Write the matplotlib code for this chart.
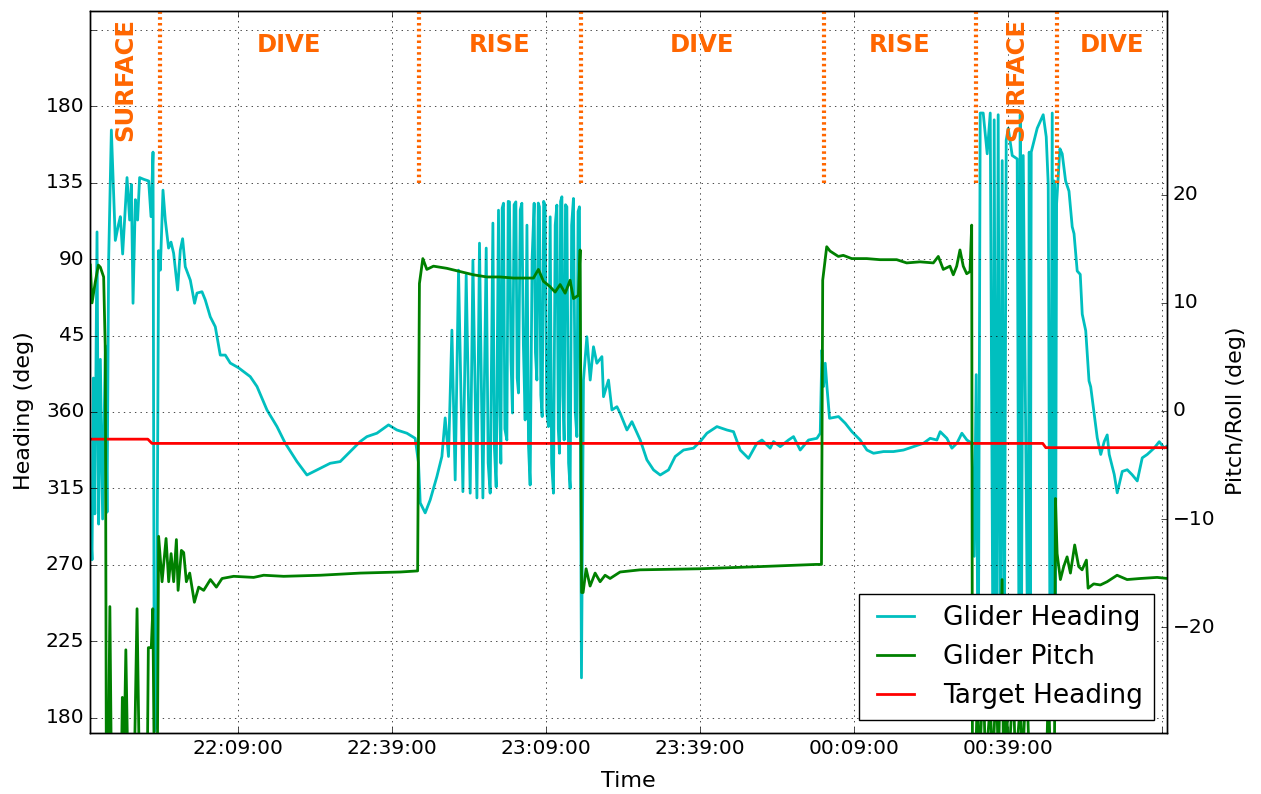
import numpy as np
import pandas as pd
import matplotlib
matplotlib.use('Agg')
import matplotlib.pyplot as plt
import matplotlib.dates as mdates

# classic look like the original plot
plt.style.use('classic')
plt.rcParams['font.family'] = ['DejaVu Sans']
plt.rcParams['figure.facecolor'] = 'white'
plt.rcParams['savefig.facecolor'] = 'white'

start = pd.Timestamp('2015-06-01 21:40:00')

# glider heading, minutes after 21:40 / degrees (0-180 drawn as 360-540)
heading_min = [0.41, 0.64, 0.89, 1.18, 1.61, 1.92, 2.26, 2.70, 3.23, 3.56, 3.87, 4.40,
               5.17, 5.76, 6.15, 6.60, 7.45, 7.96, 8.29, 8.62, 9.07, 9.51, 9.90, 10.68,
               11.66, 12.12, 12.51, 12.76, 13.15, 13.60, 13.93,
               14.45, 14.90, 15.54, 16.01, 16.52, 17.30, 17.82, 18.27, 18.79, 19.77, 20.60,
               21.07, 22.04, 22.68, 23.66, 24.63, 25.60, 26.58, 27.55, 29.17, 31.44, 32.75,
               34.69, 36.64, 38.25, 40.53, 42.47, 44.42, 47.00, 48.95, 50.90, 52.84, 54.15,
               56.09, 58.35, 59.98, 61.93, 63.54,
               64.19, 64.52, 65.49, 66.46, 67.77, 68.74, 69.38, 70.03, 70.69, 71.33, 71.98,
               72.83, 73.47, 74.25, 74.78, 75.56, 76.06, 76.72,
               77.37, 77.75, 78.14, 78.67, 78.95, 79.31, 79.76, 80.02, 80.22, 80.48, 80.73,
               81.00, 81.39, 81.65, 81.90, 82.20, 82.48, 82.80, 83.14, 83.40, 83.65, 84.00,
               84.31, 84.60, 84.95, 85.30, 85.60, 85.92, 86.30, 86.70, 86.95, 87.23, 87.50,
               87.73, 88.00, 88.26, 88.55, 88.84, 89.15, 89.49, 89.82, 90.10, 90.46, 90.80,
               91.12, 91.40, 91.63, 91.85, 92.10, 92.30, 92.54, 92.80, 93.07, 93.40, 93.71,
               94.00, 94.35, 94.70, 95.02, 95.25, 95.52, 95.75, 95.91, 96.30,
               96.96, 97.61, 98.25, 98.91, 99.89, 100.20, 101.17, 101.84, 102.81, 103.45,
               104.76, 105.73, 107.35, 108.65, 109.94, 111.24, 112.86, 114.16, 115.78,
               117.72, 119.03, 120.33, 122.28, 124.22, 125.51, 126.81, 128.43, 130.06,
               131.04, 132.65, 133.29, 134.60, 136.21, 137.19, 138.49, 140.11, 141.74, 142.39,
               142.72, 143.03, 143.36, 143.69, 144.20, 145.95, 147.25, 148.56, 150.17,
               151.48, 152.76, 154.71, 156.65, 158.60, 160.54, 162.49, 163.79, 165.10,
               165.74, 167.04, 168.02, 168.99, 169.96, 170.94, 171.91,
               172.36, 172.75, 173.14, 173.53, 174.11, 174.89, 175.48, 176.06, 176.25,
               176.64, 177.03, 177.42, 177.81, 178.20, 178.59, 178.98, 179.76, 180.73,
               181.12, 181.32, 181.51, 181.90, 182.87, 183.07, 183.26, 183.46, 184.62,
               185.79, 186.38, 186.77, 187.16, 187.55, 187.74, 187.94, 188.13, 188.40,
               189.04, 189.49, 190.15, 190.81, 191.44, 191.79, 192.41, 193.00, 193.39,
               194.07, 194.71, 195.04, 195.72, 196.31, 196.99, 197.67, 198.25, 198.64,
               199.62, 200.20, 201.18, 202.15, 203.12, 204.10, 205.07, 206.04, 207.40,
               208.38, 209.35, 209.93]
heading_deg = [290, 273, 380, 300, 466, 294, 391, 297, 399, 301, 449, 526,
               461, 470, 475, 453, 498, 473, 494, 424, 485, 473, 498, 497,
               496, 475, 513, 172, 175, 455, 443.5,
               490.6, 473, 456.5, 460, 453.5, 431.8, 455.3, 462, 445.5, 437.6, 424,
               430, 430.8, 426, 416, 410.2, 393.5, 393.5, 388.8, 386, 380.8, 375,
               361.2, 351.4, 341.6, 330.8, 322.9, 325.9, 329.8, 330.8, 336.7, 342.6, 345.5,
               347.5, 352.4, 349.4, 347.5, 344.5,
               330, 306.5, 300.6, 308.2, 322, 333.8, 356.5, 333.8, 408.2, 320, 443.5,
               313.1, 440.6, 312.2, 449.4, 309.4, 459.4, 309.4,
               456.5, 330, 312.2, 471.2, 340, 315.9, 478.8, 360, 329.8, 480, 482.9,
               350, 343.5, 484, 483.7, 390, 359.4, 482, 483.7, 380, 371.2, 479,
               482.9, 400, 355.3, 470, 340, 317, 450, 482.9, 395, 378.8, 483,
               480.8, 370, 357.3, 484, 481.8, 360, 351.4, 474.9, 330, 312.2, 470,
               481.8, 350, 335.7, 484, 486.7, 370, 343.5, 482, 480.8, 330, 315,
               470, 485.7, 360, 345.5, 478, 480.8, 320, 203.5, 378.8,
               404.3, 378.8, 398.4, 388.7, 392.6, 369, 378.8, 361.2, 363.1, 359.2,
               349.4, 354.3, 343.5, 331.8, 325.9, 322.9, 325.9, 333.8, 337.6,
               338.7, 342.6, 347.5, 351.4, 349.4, 348.4, 337.6, 332.7, 341.6,
               343.5, 338.7, 342.6, 339.6, 343.5, 345.5, 337.6, 343.5, 344.5, 347.5,
               396.5, 375, 388.7, 375, 356.3, 357.3, 353.4, 348.4, 343.5,
               337.6, 335.7, 336.7, 336.7, 337.6, 339.6, 341.6, 344.5, 343.5,
               348.4, 344.5, 338.7, 341.6, 347.5, 343.5, 341.6,
               275, 382, 182, 536, 536, 512, 536, 182, 532,
               182, 535, 182, 508, 182, 520, 527, 511, 509,
               182, 535, 182, 511, 182, 513, 182, 513, 527,
               535, 522, 494, 182, 536, 182, 496, 182, 482.6,
               515, 512, 496, 490, 469, 465, 443, 441, 417.6,
               407.8, 378.3, 374.8, 358.6, 344.8, 335, 342.6, 346.5, 335,
               323.2, 312.4, 325, 326, 323, 319.4, 333, 335, 338.8,
               342.5, 338.8, 340]

# glider pitch, minutes after 21:40 / degrees
pitch_min = [0.31, 0.64, 1.26, 1.87, 2.26, 2.90, 3.23, 3.42, 3.81, 4.11, 4.40, 6.35,
             6.54, 6.83, 7.22, 7.61, 8.87, 9.40, 9.84, 11.40, 11.60, 12.17, 12.47, 12.76,
             13.35, 13.60,
             14.27, 15.05, 15.56, 16.03, 16.53, 17.06, 17.39, 18.03, 18.48, 19.00, 19.65,
             20.56, 21.40, 22.37, 23.68, 24.84, 25.95, 28.21, 32.10, 34.05, 37.94, 45.08,
             52.87, 60.65, 64.02,
             64.37, 65.03, 65.81, 67.10, 69.70, 72.29, 74.88, 77.49, 80.08, 82.67, 86.56,
             87.53, 88.51, 89.81, 90.78, 91.76, 92.73, 93.70, 94.35, 95.32, 95.65, 95.94,
             96.23, 96.81, 97.59, 98.57, 99.54, 100.51, 101.48, 103.43, 107.32, 119.0,
             130.66, 141.56, 142.63,
             142.87, 143.65, 144.29, 145.91, 146.88, 148.52, 151.44, 154.02, 157.27,
             159.22, 161.81, 164.40, 165.37, 166.34, 167.64, 168.29, 168.95, 169.59,
             170.23, 170.90, 171.54, 171.87,
             172.02, 172.6, 172.99, 173.37, 174.15, 174.54, 175.51, 175.90, 176.68,
             177.07, 177.79, 178.05, 178.63, 179.02, 179.99, 180.38, 181.36, 181.75,
             182.53, 183.11, 186.42, 186.81, 187.20, 187.98, 188.17,
             188.50, 189.14, 189.78, 190.44, 191.09, 191.92, 192.70, 193.36, 194.20,
             194.53, 195.62, 196.92, 198.23, 200.17, 202.12, 204.71, 207.96, 209.96]
pitch_deg = [13.5, 10, 11.9, 13.5, 13.3, 12.4, 5.4, -33, -33, -18.1, -33, -33,
             -26.5, -33, -22.1, -33, -33, -18.3, -33, -33, -21.9, -21.9, -18.3, -33,
             -33, -11.6,
             -15.8, -11.8, -15.8, -13.2, -15.8, -11.9, -16.6, -12.9, -13.1, -15.8, -15,
             -17.7, -16.3, -16.6, -15.6, -16.3, -15.5, -15.3, -15.4, -15.2, -15.3, -15.2,
             -15.0, -14.9, -14.8,
             11.8, 14.1, 13.1, 13.4, 13.2, 12.9, 12.6, 12.4, 12.4, 12.3, 12.3,
             13.1, 12.0, 11.5, 11.0, 11.7, 10.9, 12.1, 10.4, 10.7, 14.9, -16.8,
             -16.8, -14.6, -16.2, -15.0, -15.8, -15.2, -15.5, -14.9, -14.7, -14.6,
             -14.4, -14.2, -14.2,
             12.1, 15.2, 14.8, 14.3, 14.4, 14.1, 14.1, 14.0, 14.0,
             13.7, 13.8, 13.7, 14.3, 13.1, 13.4, 12.6, 13.4, 14.9,
             13.4, 12.7, 12.9, 17.2,
             -33, -33, -26, -33, -24, -33, -27, -33, -25,
             -33, -15.6, -33, -26, -33, -25, -33, -27, -33,
             -24, -33, -33, -25, -33, -33, -8.1,
             -13.2, -15.6, -14.4, -13.5, -15.0, -12.4, -14.4, -14.7, -13.8,
             -16.4, -16.0, -16.1, -15.8, -15.2, -15.6, -15.5, -15.4, -15.5]

# target heading
target_min = [0.3, 11.5, 12.3, 185.7, 186.3, 209.9]
target_deg = [344, 344, 341.5, 341.5, 339, 339]

# dive phases (boundaries in minutes after 21:40)
phase_min = [0.3, 13.8, 64.23, 95.75, 143.13, 172.69, 188.47, 209.9]
phase_names = ['SURFACE', 'DIVE', 'RISE', 'DIVE', 'RISE', 'SURFACE', 'DIVE']

heading_ticks = [180, 225, 270, 315, 360, 405, 450, 495, 540, 585]
heading_labels = ['180', '225', '270', '315', '360', '45', '90', '135', '180', '']
time_tick_min = [29, 59, 89, 119, 149, 179, 209]
time_labels = ['22:09:00', '22:39:00', '23:09:00', '23:39:00', '00:09:00', '00:39:00', '']


def to_time(m):
    return mdates.date2num((start + pd.to_timedelta(np.asarray(m), unit='min')).to_pydatetime())


orange = '#ff6600'

fig = plt.figure(figsize=(12.61, 7.94), dpi=100)
ax1 = fig.add_subplot(111)
fig.subplots_adjust(left=0.0714, right=0.9255, bottom=0.0768, top=0.986)
ax2 = ax1.twinx()

h1, = ax1.plot(to_time(heading_min), heading_deg, color='c', lw=2, label='Glider Heading')
h3, = ax1.plot(to_time(target_min), target_deg, color='r', lw=2, label='Target Heading')
h2, = ax2.plot(to_time(pitch_min), pitch_deg, color='g', lw=2, label='Glider Pitch')

# phase markers and names
ax1.vlines(to_time(phase_min[1:-1]), 495, 600, colors=orange, lw=3,
           linestyles=(0, (1.8, 2.4)), zorder=4)
for i, name in enumerate(phase_names):
    mid = to_time([(phase_min[i] + phase_min[i + 1]) / 2])[0]
    if name == 'SURFACE':
        ax1.text(mid, 556, name, rotation=90, ha='center', va='center',
                 color=orange, fontsize=17.5, fontweight='bold', zorder=5)
    else:
        ax1.text(mid, 576, name, ha='center', va='center',
                 color=orange, fontsize=17.5, fontweight='bold', zorder=5)

ax1.set_xlim(to_time([0.25, 209.9]))
ax1.set_ylim(171, 596)
ax2.set_ylim(-29.8, 37.0)

ax1.set_yticks(heading_ticks)
ax1.set_yticklabels(heading_labels)
ax1.set_xticks(to_time(time_tick_min))
ax1.set_xticklabels(time_labels)
ax2.set_yticks([-20, -10, 0, 10, 20])
ax2.set_yticklabels(['\u221220', '\u221210', '0', '10', '20'])

ax1.tick_params(labelsize=14.5)
ax2.tick_params(labelsize=14.5)
ax1.grid(True)

ax1.set_xlabel('Time', fontsize=16)
ax1.set_ylabel('Heading (deg)', fontsize=16)
ax2.set_ylabel('Pitch/Roll (deg)', fontsize=16)
ax1.xaxis.set_label_coords(0.5, -0.052)
ax1.yaxis.set_label_coords(-0.052, 0.446)
ax2.yaxis.set_label_coords(1.0548, 0.446)

ax2.legend([h1, h2, h3], ['Glider Heading', 'Glider Pitch', 'Target Heading'],
           loc='lower right', fontsize=19, framealpha=1)

fig.savefig('out.png', dpi=100)
